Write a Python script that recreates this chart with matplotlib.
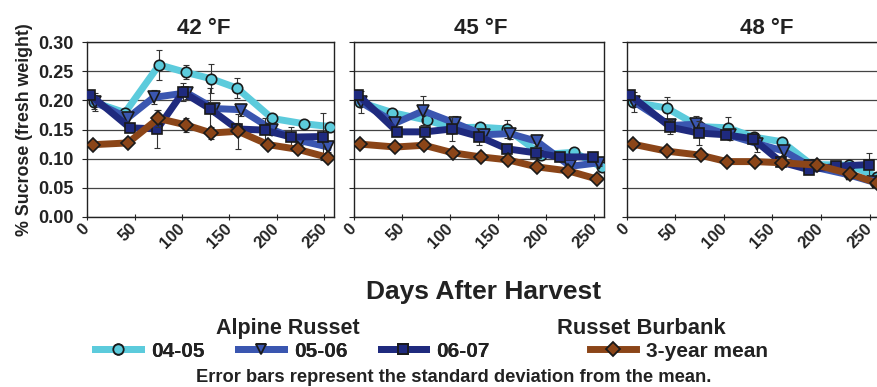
import matplotlib
matplotlib.use("Agg")
import matplotlib.pyplot as plt
from matplotlib.lines import Line2D

plt.rcParams['font.family'] = ['Liberation Sans', 'DejaVu Sans']
plt.rcParams['font.weight'] = 'bold'

panels = ["42 °F", "45 °F", "48 °F"]
series_names = ["04-05", "05-06", "06-07", "3-year mean"]

# days after harvest, per panel, per series
days_42 = [
    [7, 40, 76, 104, 131, 158, 195, 228, 256],
    [8, 43, 70, 105, 134, 162, 195, 224, 254],
    [3, 45, 74, 101, 129, 158, 187, 215, 248],
    [6, 43, 75, 104, 131, 159, 191, 222, 254],
]
sucrose_42 = [
    [0.197, 0.179, 0.261, 0.248, 0.237, 0.221, 0.169, 0.160, 0.155],
    [0.197, 0.170, 0.205, 0.213, 0.186, 0.184, 0.150, 0.131, 0.120],
    [0.210, 0.153, 0.151, 0.214, 0.186, 0.151, 0.149, 0.137, 0.138],
    [0.124, 0.127, 0.169, 0.158, 0.144, 0.147, 0.124, 0.116, 0.102],
]
sd_42 = [
    [0.012, 0.008, 0.026, 0.012, 0.025, 0.017, 0.004, 0.004, 0.004],
    [0.015, 0.010, 0.012, 0.010, 0.010, 0.010, 0.010, 0.008, 0.008],
    [0.008, 0.008, 0.033, 0.015, 0.036, 0.010, 0.020, 0.018, 0.040],
    [0.004, 0.004, 0.015, 0.012, 0.010, 0.030, 0.004, 0.004, 0.004],
]

days_45 = [
    [6, 40, 76, 102, 131, 159, 195, 229, 258],
    [7, 43, 72, 105, 135, 162, 190, 225, 255],
    [4, 45, 74, 102, 130, 159, 189, 214, 249],
    [6, 43, 73, 103, 132, 160, 190, 223, 253],
]
sucrose_45 = [
    [0.197, 0.179, 0.166, 0.153, 0.154, 0.151, 0.107, 0.111, 0.085],
    [0.197, 0.161, 0.182, 0.161, 0.141, 0.143, 0.130, 0.087, 0.093],
    [0.210, 0.146, 0.146, 0.151, 0.138, 0.117, 0.110, 0.103, 0.103],
    [0.125, 0.120, 0.123, 0.110, 0.103, 0.098, 0.086, 0.079, 0.065],
]
sd_45 = [
    [0.005, 0.005, 0.005, 0.005, 0.005, 0.015, 0.005, 0.005, 0.005],
    [0.019, 0.008, 0.025, 0.012, 0.008, 0.010, 0.008, 0.005, 0.005],
    [0.005, 0.005, 0.005, 0.020, 0.015, 0.005, 0.005, 0.005, 0.005],
    [0.004, 0.004, 0.004, 0.004, 0.004, 0.004, 0.004, 0.004, 0.004],
]

days_48 = [
    [6, 41, 75, 104, 131, 160, 190, 229, 258],
    [8, 45, 71, 106, 134, 162, 189, 227, 254],
    [3, 45, 74, 102, 130, 159, 188, 216, 249],
    [6, 41, 76, 103, 132, 160, 196, 230, 258],
]
sucrose_48 = [
    [0.197, 0.187, 0.155, 0.153, 0.137, 0.129, 0.090, 0.089, 0.069],
    [0.197, 0.157, 0.159, 0.140, 0.126, 0.113, 0.087, 0.073, 0.060],
    [0.210, 0.154, 0.144, 0.141, 0.134, 0.094, 0.081, 0.087, 0.090],
    [0.125, 0.113, 0.106, 0.095, 0.095, 0.093, 0.089, 0.074, 0.058],
]
sd_48 = [
    [0.005, 0.019, 0.005, 0.018, 0.005, 0.005, 0.005, 0.005, 0.005],
    [0.017, 0.008, 0.014, 0.008, 0.015, 0.008, 0.005, 0.005, 0.005],
    [0.005, 0.012, 0.020, 0.008, 0.008, 0.005, 0.005, 0.008, 0.019],
    [0.006, 0.004, 0.004, 0.004, 0.004, 0.004, 0.004, 0.004, 0.004],
]

all_days = [days_42, days_45, days_48]
all_sucrose = [sucrose_42, sucrose_45, sucrose_48]
all_sd = [sd_42, sd_45, sd_48]

colors = ["#5ccbdc", "#3a56b0", "#1f2a7e", "#8b4518"]
markers = ["o", "v", "s", "D"]
msizes = [7.5, 8, 7.5, 7.5]
ink = '#222222'

fig = plt.figure(figsize=(8.78, 3.87), dpi=100)
# the last panel runs slightly past the right edge of the image
boxes = [(0.0991, 0.2813), (0.4032, 0.2847), (0.7138, 0.2876)]
title_x = [0.474, 0.508, 0.553]
bottom, height = 0.4393, 0.452

for p in range(3):
    ax = fig.add_axes([boxes[p][0], bottom, boxes[p][1], height])
    for s in range(4):
        x = all_days[p][s]
        y = all_sucrose[p][s]
        ax.errorbar(x, y, yerr=all_sd[p][s], fmt='none', ecolor='#333333',
                    elinewidth=0.8, capsize=2, capthick=0.8, zorder=2 + 2 * s)
        ax.plot(x, y, color=colors[s], lw=5, marker=markers[s], ms=msizes[s],
                mfc=colors[s], mec='#1a1a1a', mew=1.2, zorder=3 + 2 * s)
    ax.set_xlim(0, 260)
    ax.set_ylim(0, 0.30)
    ax.set_yticks([0, 0.05, 0.10, 0.15, 0.20, 0.25, 0.30])
    ax.set_xticks([0, 50, 100, 150, 200, 250])
    ax.yaxis.grid(True, color='#444444', lw=0.9)
    ax.set_axisbelow(True)
    for sp in ax.spines.values():
        sp.set_color(ink)
        sp.set_linewidth(1)
    ax.tick_params(axis='x', direction='inout', length=5, labelsize=12,
                   pad=4, colors=ink)
    ax.tick_params(axis='y', direction='out', length=3.5, labelsize=13,
                   pad=6, colors=ink)
    for lab in ax.get_xticklabels():
        lab.set_rotation(45)
        lab.set_ha('right')
        lab.set_va('center')
        lab.set_rotation_mode('anchor')
        lab.set_fontweight('bold')
    if p == 0:
        ax.set_yticklabels(["0.00", "0.05", "0.10", "0.15", "0.20", "0.25", "0.30"],
                           fontweight='bold')
        ax.set_ylabel("% Sucrose (fresh weight)", fontsize=12.8, fontweight='bold',
                      labelpad=4, color=ink)
    else:
        ax.set_yticklabels([])
    ax.set_title(panels[p], x=title_x[p], fontsize=16, fontweight='bold',
                 pad=6, color=ink)

fig.text(0.551, 0.245, "Days After Harvest", ha='center', va='center',
         fontsize=19, fontweight='bold', color=ink)
fig.text(0.328, 0.152, "Alpine Russet", ha='center', va='center',
         fontsize=15.5, fontweight='bold', color=ink)
fig.text(0.730, 0.152, "Russet Burbank", ha='center', va='center',
         fontsize=15.8, fontweight='bold', color=ink)
fig.text(0.517, 0.025, "Error bars represent the standard deviation from the mean.",
         ha='center', va='center', fontsize=13.2, fontweight='bold', color=ink)

handles = [Line2D([], [], color=colors[s], lw=5, marker=markers[s], ms=7.5,
                  mfc=colors[s], mec='#1a1a1a', mew=1.3) for s in range(4)]
leg_kw = dict(frameon=False, handlelength=2.2, handletextpad=0.48,
              borderaxespad=0, borderpad=0, labelcolor=ink,
              prop={'weight': 'bold', 'size': 15})
leg1 = fig.legend(handles[:3], series_names[:3], loc='center left',
                  bbox_to_anchor=(0.1084, 0.093), ncol=3, columnspacing=1.6,
                  **leg_kw)
fig.add_artist(leg1)
fig.legend(handles[3:], series_names[3:], loc='center left',
           bbox_to_anchor=(0.672, 0.093), **leg_kw)

fig.savefig("out.png", dpi=100)
